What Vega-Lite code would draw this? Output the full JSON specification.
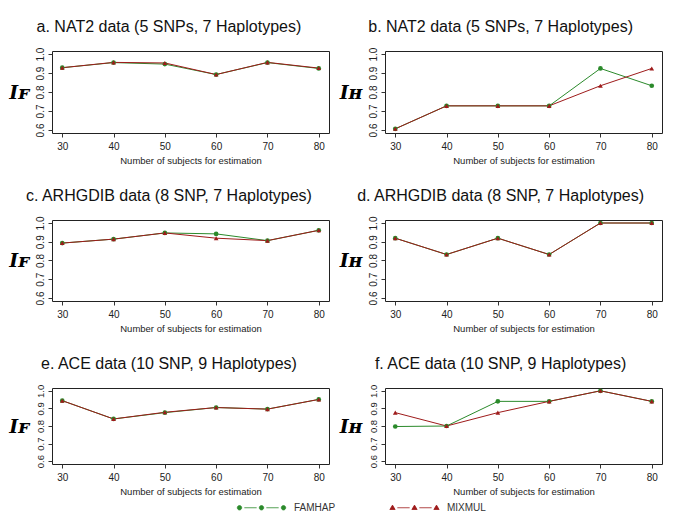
{
  "$schema": "https://vega.github.io/schema/vega-lite/v6.json",
  "background": "white",
  "padding": {"left": 8, "top": 18, "right": 5, "bottom": 5},
  "datasets": {
    "d": [
      {"panel": "a", "method": "FAMHAP", "n": 30, "value": 0.928},
      {"panel": "a", "method": "FAMHAP", "n": 40, "value": 0.955},
      {"panel": "a", "method": "FAMHAP", "n": 50, "value": 0.947},
      {"panel": "a", "method": "FAMHAP", "n": 60, "value": 0.892},
      {"panel": "a", "method": "FAMHAP", "n": 70, "value": 0.955},
      {"panel": "a", "method": "FAMHAP", "n": 80, "value": 0.924},
      {"panel": "a", "method": "MIXMUL", "n": 30, "value": 0.928},
      {"panel": "a", "method": "MIXMUL", "n": 40, "value": 0.956},
      {"panel": "a", "method": "MIXMUL", "n": 50, "value": 0.953},
      {"panel": "a", "method": "MIXMUL", "n": 60, "value": 0.892},
      {"panel": "a", "method": "MIXMUL", "n": 70, "value": 0.956},
      {"panel": "a", "method": "MIXMUL", "n": 80, "value": 0.926},
      {"panel": "b", "method": "FAMHAP", "n": 30, "value": 0.606},
      {"panel": "b", "method": "FAMHAP", "n": 40, "value": 0.727},
      {"panel": "b", "method": "FAMHAP", "n": 50, "value": 0.727},
      {"panel": "b", "method": "FAMHAP", "n": 60, "value": 0.727},
      {"panel": "b", "method": "FAMHAP", "n": 70, "value": 0.924},
      {"panel": "b", "method": "FAMHAP", "n": 80, "value": 0.833},
      {"panel": "b", "method": "MIXMUL", "n": 30, "value": 0.606},
      {"panel": "b", "method": "MIXMUL", "n": 40, "value": 0.727},
      {"panel": "b", "method": "MIXMUL", "n": 50, "value": 0.727},
      {"panel": "b", "method": "MIXMUL", "n": 60, "value": 0.727},
      {"panel": "b", "method": "MIXMUL", "n": 70, "value": 0.833},
      {"panel": "b", "method": "MIXMUL", "n": 80, "value": 0.924},
      {"panel": "c", "method": "FAMHAP", "n": 30, "value": 0.893},
      {"panel": "c", "method": "FAMHAP", "n": 40, "value": 0.914},
      {"panel": "c", "method": "FAMHAP", "n": 50, "value": 0.947},
      {"panel": "c", "method": "FAMHAP", "n": 60, "value": 0.942},
      {"panel": "c", "method": "FAMHAP", "n": 70, "value": 0.906},
      {"panel": "c", "method": "FAMHAP", "n": 80, "value": 0.961},
      {"panel": "c", "method": "MIXMUL", "n": 30, "value": 0.893},
      {"panel": "c", "method": "MIXMUL", "n": 40, "value": 0.914},
      {"panel": "c", "method": "MIXMUL", "n": 50, "value": 0.947},
      {"panel": "c", "method": "MIXMUL", "n": 60, "value": 0.919},
      {"panel": "c", "method": "MIXMUL", "n": 70, "value": 0.906},
      {"panel": "c", "method": "MIXMUL", "n": 80, "value": 0.961},
      {"panel": "d", "method": "FAMHAP", "n": 30, "value": 0.919},
      {"panel": "d", "method": "FAMHAP", "n": 40, "value": 0.832},
      {"panel": "d", "method": "FAMHAP", "n": 50, "value": 0.919},
      {"panel": "d", "method": "FAMHAP", "n": 60, "value": 0.832},
      {"panel": "d", "method": "FAMHAP", "n": 70, "value": 1.0},
      {"panel": "d", "method": "FAMHAP", "n": 80, "value": 1.0},
      {"panel": "d", "method": "MIXMUL", "n": 30, "value": 0.919},
      {"panel": "d", "method": "MIXMUL", "n": 40, "value": 0.832},
      {"panel": "d", "method": "MIXMUL", "n": 50, "value": 0.919},
      {"panel": "d", "method": "MIXMUL", "n": 60, "value": 0.832},
      {"panel": "d", "method": "MIXMUL", "n": 70, "value": 1.0},
      {"panel": "d", "method": "MIXMUL", "n": 80, "value": 1.0},
      {"panel": "e", "method": "FAMHAP", "n": 30, "value": 0.944},
      {"panel": "e", "method": "FAMHAP", "n": 40, "value": 0.840},
      {"panel": "e", "method": "FAMHAP", "n": 50, "value": 0.876},
      {"panel": "e", "method": "FAMHAP", "n": 60, "value": 0.905},
      {"panel": "e", "method": "FAMHAP", "n": 70, "value": 0.896},
      {"panel": "e", "method": "FAMHAP", "n": 80, "value": 0.951},
      {"panel": "e", "method": "MIXMUL", "n": 30, "value": 0.944},
      {"panel": "e", "method": "MIXMUL", "n": 40, "value": 0.840},
      {"panel": "e", "method": "MIXMUL", "n": 50, "value": 0.878},
      {"panel": "e", "method": "MIXMUL", "n": 60, "value": 0.905},
      {"panel": "e", "method": "MIXMUL", "n": 70, "value": 0.896},
      {"panel": "e", "method": "MIXMUL", "n": 80, "value": 0.951},
      {"panel": "f", "method": "FAMHAP", "n": 30, "value": 0.797},
      {"panel": "f", "method": "FAMHAP", "n": 40, "value": 0.800},
      {"panel": "f", "method": "FAMHAP", "n": 50, "value": 0.940},
      {"panel": "f", "method": "FAMHAP", "n": 60, "value": 0.940},
      {"panel": "f", "method": "FAMHAP", "n": 70, "value": 1.0},
      {"panel": "f", "method": "FAMHAP", "n": 80, "value": 0.940},
      {"panel": "f", "method": "MIXMUL", "n": 30, "value": 0.876},
      {"panel": "f", "method": "MIXMUL", "n": 40, "value": 0.800},
      {"panel": "f", "method": "MIXMUL", "n": 50, "value": 0.876},
      {"panel": "f", "method": "MIXMUL", "n": 60, "value": 0.940},
      {"panel": "f", "method": "MIXMUL", "n": 70, "value": 1.0},
      {"panel": "f", "method": "MIXMUL", "n": 80, "value": 0.940}
    ]
  },
  "data": {"name": "d"},
  "columns": 2,
  "spacing": {"row": 22, "column": 8},
  "concat": [
    {
      "title": "a. NAT2 data (5 SNPs, 7 Haplotypes)",
      "width": 277, "height": 82,
      "transform": [{"filter": "datum.panel === 'a'"}],
      "encoding": {
        "x": {"field": "n", "type": "quantitative", "scale": {"domain": [28, 82], "nice": false, "zero": false}, "axis": {"values": [30, 40, 50, 60, 70, 80], "tickCount": 10, "title": "Number of subjects for estimation"}},
        "y": {"field": "value", "type": "quantitative", "scale": {"domain": [0.584, 1.016], "nice": false, "zero": false}, "axis": {"values": [0.6, 0.7, 0.8, 0.9, 1.0], "tickCount": 10, "format": ".1f", "labelOverlap": false, "title": "Iꜰ"}},
        "color": {"field": "method", "type": "nominal", "scale": {"domain": ["FAMHAP", "MIXMUL"], "range": ["#2b8a2b", "#9e1b1b"]}, "legend": {
             "title": null, "orient": "none", "legendX": 187, "legendY": 434, "direction": "horizontal",
             "symbolSize": 1936, "columnPadding": 52, "labelOffset": 10,
             "encode": {"symbols": {"update": {
               "shape": {"signal": "datum.value === 'FAMHAP' ? 'M-1.1,0A0.1,0.1 0 1,0 -0.9,0A0.1,0.1 0 1,0 -1.1,0ZM-0.1,0A0.1,0.1 0 1,0 0.1,0A0.1,0.1 0 1,0 -0.1,0ZM0.9,0A0.1,0.1 0 1,0 1.1,0A0.1,0.1 0 1,0 0.9,0ZM-0.78,0L-0.22,0M0.22,0L0.78,0' : 'M-1.12,0.08L-1,-0.12L-0.88,0.08ZM-0.12,0.08L0,-0.12L0.12,0.08ZM0.88,0.08L1,-0.12L1.12,0.08ZM-0.78,0L-0.22,0M0.22,0L0.78,0'"},
               "fill": {"signal": "datum.value === 'FAMHAP' ? '#2b8a2b' : '#9e1b1b'"},
               "stroke": {"signal": "datum.value === 'FAMHAP' ? '#2b8a2b' : '#9e1b1b'"},
               "opacity": {"value": 1},
               "strokeWidth": {"value": 0.8}
             }}}
           }}
      },
      "layer": [
        {"mark": {"type": "line", "strokeWidth": 1}},
        {"transform": [{"filter": "datum.method === 'FAMHAP'"}], "mark": {"type": "point", "shape": "circle", "filled": true, "size": 22, "opacity": 1}},
        {"transform": [{"filter": "datum.method === 'MIXMUL'"}], "mark": {"type": "point", "shape": "triangle-up", "filled": true, "size": 22, "opacity": 1}}
      ]
    },
    {
      "title": "b. NAT2 data (5 SNPs, 7 Haplotypes)",
      "width": 277, "height": 82,
      "transform": [{"filter": "datum.panel === 'b'"}],
      "encoding": {
        "x": {"field": "n", "type": "quantitative", "scale": {"domain": [28, 82], "nice": false, "zero": false}, "axis": {"values": [30, 40, 50, 60, 70, 80], "tickCount": 10, "title": "Number of subjects for estimation"}},
        "y": {"field": "value", "type": "quantitative", "scale": {"domain": [0.584, 1.016], "nice": false, "zero": false}, "axis": {"values": [0.6, 0.7, 0.8, 0.9, 1.0], "tickCount": 10, "format": ".1f", "labelOverlap": false, "title": "Iʜ"}},
        "color": {"field": "method", "type": "nominal"}
      },
      "layer": [
        {"mark": {"type": "line", "strokeWidth": 1}},
        {"transform": [{"filter": "datum.method === 'FAMHAP'"}], "mark": {"type": "point", "shape": "circle", "filled": true, "size": 22, "opacity": 1}},
        {"transform": [{"filter": "datum.method === 'MIXMUL'"}], "mark": {"type": "point", "shape": "triangle-up", "filled": true, "size": 22, "opacity": 1}}
      ]
    },
    {
      "title": "c. ARHGDIB data (8 SNP, 7 Haplotypes)",
      "width": 277, "height": 81,
      "transform": [{"filter": "datum.panel === 'c'"}],
      "encoding": {
        "x": {"field": "n", "type": "quantitative", "scale": {"domain": [28, 82], "nice": false, "zero": false}, "axis": {"values": [30, 40, 50, 60, 70, 80], "tickCount": 10, "title": "Number of subjects for estimation"}},
        "y": {"field": "value", "type": "quantitative", "scale": {"domain": [0.584, 1.016], "nice": false, "zero": false}, "axis": {"values": [0.6, 0.7, 0.8, 0.9, 1.0], "tickCount": 10, "format": ".1f", "labelOverlap": false, "title": "Iꜰ"}},
        "color": {"field": "method", "type": "nominal"}
      },
      "layer": [
        {"mark": {"type": "line", "strokeWidth": 1}},
        {"transform": [{"filter": "datum.method === 'FAMHAP'"}], "mark": {"type": "point", "shape": "circle", "filled": true, "size": 22, "opacity": 1}},
        {"transform": [{"filter": "datum.method === 'MIXMUL'"}], "mark": {"type": "point", "shape": "triangle-up", "filled": true, "size": 22, "opacity": 1}}
      ]
    },
    {
      "title": "d. ARHGDIB data (8 SNP, 7 Haplotypes)",
      "width": 277, "height": 81,
      "transform": [{"filter": "datum.panel === 'd'"}],
      "encoding": {
        "x": {"field": "n", "type": "quantitative", "scale": {"domain": [28, 82], "nice": false, "zero": false}, "axis": {"values": [30, 40, 50, 60, 70, 80], "tickCount": 10, "title": "Number of subjects for estimation"}},
        "y": {"field": "value", "type": "quantitative", "scale": {"domain": [0.584, 1.016], "nice": false, "zero": false}, "axis": {"values": [0.6, 0.7, 0.8, 0.9, 1.0], "tickCount": 10, "format": ".1f", "labelOverlap": false, "title": "Iʜ"}},
        "color": {"field": "method", "type": "nominal"}
      },
      "layer": [
        {"mark": {"type": "line", "strokeWidth": 1}},
        {"transform": [{"filter": "datum.method === 'FAMHAP'"}], "mark": {"type": "point", "shape": "circle", "filled": true, "size": 22, "opacity": 1}},
        {"transform": [{"filter": "datum.method === 'MIXMUL'"}], "mark": {"type": "point", "shape": "triangle-up", "filled": true, "size": 22, "opacity": 1}}
      ]
    },
    {
      "title": "e. ACE data (10 SNP, 9 Haplotypes)",
      "width": 277, "height": 76,
      "transform": [{"filter": "datum.panel === 'e'"}],
      "encoding": {
        "x": {"field": "n", "type": "quantitative", "scale": {"domain": [28, 82], "nice": false, "zero": false}, "axis": {"values": [30, 40, 50, 60, 70, 80], "tickCount": 10, "title": "Number of subjects for estimation"}},
        "y": {"field": "value", "type": "quantitative", "scale": {"domain": [0.584, 1.016], "nice": false, "zero": false}, "axis": {"values": [0.6, 0.7, 0.8, 0.9, 1.0], "tickCount": 10, "format": ".1f", "labelOverlap": false, "labelFontSize": 9.5, "title": "Iꜰ"}},
        "color": {"field": "method", "type": "nominal"}
      },
      "layer": [
        {"mark": {"type": "line", "strokeWidth": 1}},
        {"transform": [{"filter": "datum.method === 'FAMHAP'"}], "mark": {"type": "point", "shape": "circle", "filled": true, "size": 22, "opacity": 1}},
        {"transform": [{"filter": "datum.method === 'MIXMUL'"}], "mark": {"type": "point", "shape": "triangle-up", "filled": true, "size": 22, "opacity": 1}}
      ]
    },
    {
      "title": "f. ACE data (10 SNP, 9 Haplotypes)",
      "width": 277, "height": 76,
      "transform": [{"filter": "datum.panel === 'f'"}],
      "encoding": {
        "x": {"field": "n", "type": "quantitative", "scale": {"domain": [28, 82], "nice": false, "zero": false}, "axis": {"values": [30, 40, 50, 60, 70, 80], "tickCount": 10, "title": "Number of subjects for estimation"}},
        "y": {"field": "value", "type": "quantitative", "scale": {"domain": [0.584, 1.016], "nice": false, "zero": false}, "axis": {"values": [0.6, 0.7, 0.8, 0.9, 1.0], "tickCount": 10, "format": ".1f", "labelOverlap": false, "labelFontSize": 9.5, "title": "Iʜ"}},
        "color": {"field": "method", "type": "nominal"}
      },
      "layer": [
        {"mark": {"type": "line", "strokeWidth": 1}},
        {"transform": [{"filter": "datum.method === 'FAMHAP'"}], "mark": {"type": "point", "shape": "circle", "filled": true, "size": 22, "opacity": 1}},
        {"transform": [{"filter": "datum.method === 'MIXMUL'"}], "mark": {"type": "point", "shape": "triangle-up", "filled": true, "size": 22, "opacity": 1}}
      ]
    }
  ],
  "resolve": {"scale": {"x": "independent", "y": "independent", "color": "shared"}},
  "config": {
    "font": "Liberation Sans",
    "view": {"stroke": "#222222", "strokeWidth": 1},
    "title": {"fontSize": 16, "fontWeight": "normal", "font": "Liberation Sans", "color": "#111111", "offset": 12, "anchor": "middle", "frame": "bounds"},
    "axis": {
      "grid": false, "domain": false, "tickColor": "#333333", "tickSize": 4,
      "labelFont": "Liberation Sans", "labelFontSize": 10, "labelColor": "#222222", "labelOverlap": false, "labelFlush": false,
      "titleFont": "Liberation Sans", "titleFontSize": 9.5, "titleFontWeight": "normal", "titleColor": "#222222"
    },
    "axisX": {"labelPadding": 4, "titlePadding": 4},
    "axisY": {"labelAngle": -90, "labelAlign": "center", "labelBaseline": "bottom", "labelPadding": 3,
      "titleAngle": 0, "titleFont": "DejaVu Serif", "titleFontStyle": "italic", "titleFontWeight": "bold", "titleFontSize": 19,
      "titleColor": "#000000", "titleAlign": "right", "titleBaseline": "middle", "titlePadding": 6},
    "legend": {"labelFont": "Liberation Sans", "labelFontSize": 10, "labelColor": "#333333", "padding": 0}
  }
}
